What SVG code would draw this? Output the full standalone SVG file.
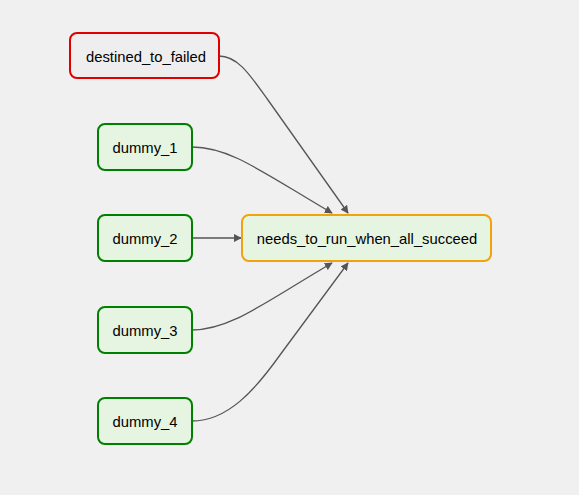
<svg xmlns="http://www.w3.org/2000/svg" width="579" height="495" viewBox="0 0 579 495">
<style>
.bg{fill:#f0f0f0}
.node rect{stroke-width:2}
.ok rect{fill:#e6f5e1;stroke:#008000}
.fail rect{fill:#eeeeee;stroke:#e00000}
.up rect{fill:#e6f5e1;stroke:#f0a30a}
.node text{font-family:"Liberation Sans",Arial,sans-serif;font-size:14.8px;fill:#000;text-anchor:middle;dominant-baseline:central}
.edges path{fill:none;stroke:#555;stroke-width:1.3}
</style>
<defs>
<marker id="arrow" viewBox="0 0 10 10" refX="9" refY="5" markerWidth="8" markerHeight="8" markerUnits="userSpaceOnUse" orient="auto">
<path d="M0,0 L10,5 L0,10 z" fill="#555"/>
</marker>
</defs>
<rect class="bg" x="0" y="0" width="579" height="495"/>
<g class="edges">
<path d="M219,56 C238,56 250,75 268,100 L348,213" marker-end="url(#arrow)"/>
<path d="M192,147 C230,147 262,172 332,213" marker-end="url(#arrow)"/>
<path d="M192,238 L241,238" marker-end="url(#arrow)"/>
<path d="M192,330 C230,330 262,304 332,263" marker-end="url(#arrow)"/>
<path d="M192,421 C228,421 255,390 280,355 L348,263" marker-end="url(#arrow)"/>
</g>
<g id="destined_to_failed" class="node fail"><rect x="70" y="33" width="149" height="45" rx="7"/><text x="146" y="57">destined_to_failed</text></g>
<g id="dummy_1" class="node ok"><rect x="98" y="124" width="94" height="46" rx="7"/><text x="145" y="148">dummy_1</text></g>
<g id="dummy_2" class="node ok"><rect x="98" y="215" width="94" height="46" rx="7"/><text x="145" y="239">dummy_2</text></g>
<g id="dummy_3" class="node ok"><rect x="98" y="307" width="94" height="46" rx="7"/><text x="145" y="331">dummy_3</text></g>
<g id="dummy_4" class="node ok"><rect x="98" y="398" width="94" height="46" rx="7"/><text x="145" y="422">dummy_4</text></g>
<g id="needs_to_run_when_all_succeed" class="node up"><rect x="242" y="215" width="249" height="46" rx="7"/><text x="367" y="239">needs_to_run_when_all_succeed</text></g>
</svg>
